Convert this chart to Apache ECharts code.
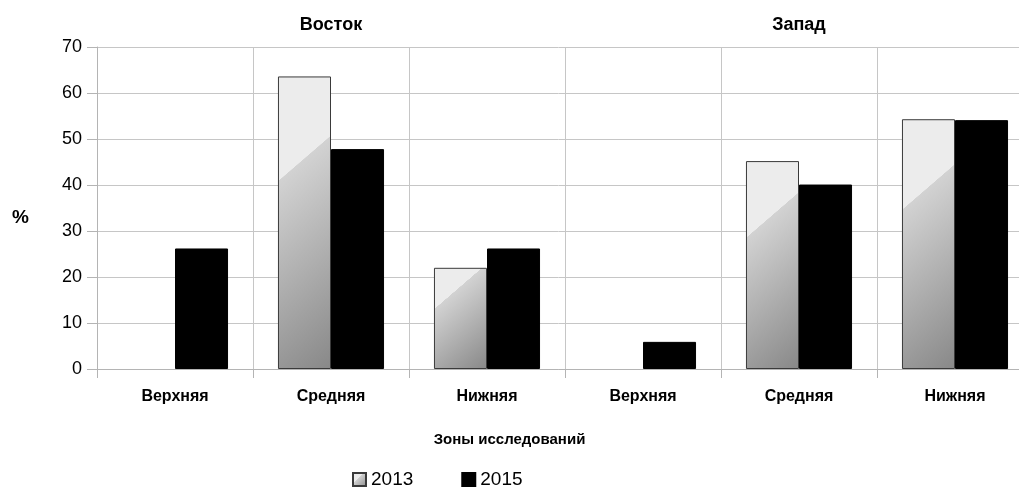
<!DOCTYPE html>
<html><head><meta charset="utf-8">
<script src="https://cdn.jsdelivr.net/npm/echarts@6/dist/echarts.min.js"></script>
<style>html,body{margin:0;padding:0;background:#fff}#c{width:1019px;height:491px}</style>
</head><body><div id="c"></div>
<script>
const categories = ['Верхняя','Средняя','Нижняя','Верхняя','Средняя','Нижняя'];
const groups = ['Восток','Запад'];
const s2013 = [0, 63.6, 22.0, 0, 45.2, 54.3];
const s2015 = [26.2, 47.8, 26.2, 5.9, 40.1, 54.1];
const yTicks = {min: 0, max: 70, interval: 10};

const FONT = '"Liberation Sans", Arial, sans-serif';
const gridTop = 47, gridLeft = 97, plotW = 936, plotH = 322;
const barW = plotW / categories.length * 0.34;
const pxPerUnit = plotH / (yTicks.max - yTicks.min);
const dxn = 0.653, dyn = 0.757;

function hatchFill(v) {
  const h = Math.max(v * pxPerUnit, 1), w = barW;
  const y0 = 0.33 * h + 8;
  const sb = y0 * dyn;
  const se = w * dxn + h * dyn;
  const f = Math.min(Math.max(sb / se, 0), 0.98);
  return new echarts.graphic.LinearGradient(0, 0, se * dxn / w, se * dyn / h, [
    {offset: 0, color: '#ececec'},
    {offset: f, color: '#ececec'},
    {offset: Math.min(f + 0.002, 1), color: '#d2d2d2'},
    {offset: 1, color: '#888888'}
  ]);
}

const chart = echarts.init(document.getElementById('c'), null, {renderer: 'canvas'});
chart.setOption({
  animation: false,
  textStyle: {fontFamily: FONT, color: '#000'},
  grid: {left: gridLeft, top: gridTop, width: plotW, height: plotH, containLabel: false, outerBoundsMode: 'none'},
  title: {
    text: 'Зоны исследований', left: 'center', top: 427,
    textStyle: {fontFamily: FONT, fontSize: 15, fontWeight: 'bold', color: '#000'}
  },
  legend: {
    top: 465, left: 347, itemWidth: 13, itemHeight: 13, itemGap: 48, icon: 'rect',
    textStyle: {fontFamily: FONT, fontSize: 19, color: '#000'},
    data: ['2013', '2015']
  },
  xAxis: [{
    type: 'category', data: categories, boundaryGap: true,
    axisLine: {show: true, lineStyle: {color: '#b4b4b4', width: 1}},
    axisTick: {show: true, length: 9, interval: 0, lineStyle: {color: '#b4b4b4'}},
    splitLine: {show: true, interval: 0, lineStyle: {color: '#c6c6c6', width: 1}},
    axisLabel: {interval: 0, margin: 20, fontFamily: FONT, fontSize: 16, fontWeight: 'bold', color: '#000'}
  }, {
    type: 'category', data: groups, position: 'top', boundaryGap: true,
    axisLine: {show: false}, axisTick: {show: false}, splitLine: {show: false},
    axisLabel: {margin: 13, fontFamily: FONT, fontSize: 18, fontWeight: 'bold', color: '#000'}
  }],
  yAxis: {
    type: 'value', min: yTicks.min, max: yTicks.max, interval: yTicks.interval,
    name: '%', nameLocation: 'middle', nameRotate: 0, nameGap: 68,
    nameTextStyle: {fontFamily: FONT, fontSize: 19, fontWeight: 'bold', color: '#000', verticalAlign: 'top'},
    axisLine: {show: true, lineStyle: {color: '#b4b4b4', width: 1}},
    axisTick: {show: true, length: 10, lineStyle: {color: '#b4b4b4'}},
    splitLine: {show: true, lineStyle: {color: '#c6c6c6', width: 1}},
    axisLabel: {margin: 15, fontFamily: FONT, fontSize: 18, color: '#000'}
  },
  series: [{
    name: '2013', type: 'bar', barGap: '0%', barCategoryGap: '32%',
    itemStyle: {
      color: new echarts.graphic.LinearGradient(0, 0, 1, 1, [
        {offset: 0, color: '#ececec'}, {offset: 0.4, color: '#ececec'},
        {offset: 0.41, color: '#d2d2d2'}, {offset: 1, color: '#888888'}]),
      borderColor: '#3a3a3a', borderWidth: 1
    },
    data: s2013.map(v => ({value: v, itemStyle: {color: hatchFill(v), borderWidth: v > 0 ? 1 : 0}}))
  }, {
    name: '2015', type: 'bar', barGap: '0%', barCategoryGap: '32%',
    itemStyle: {color: '#000', borderColor: '#000', borderWidth: 1},
    data: s2015
  }]
});
</script></body></html>
